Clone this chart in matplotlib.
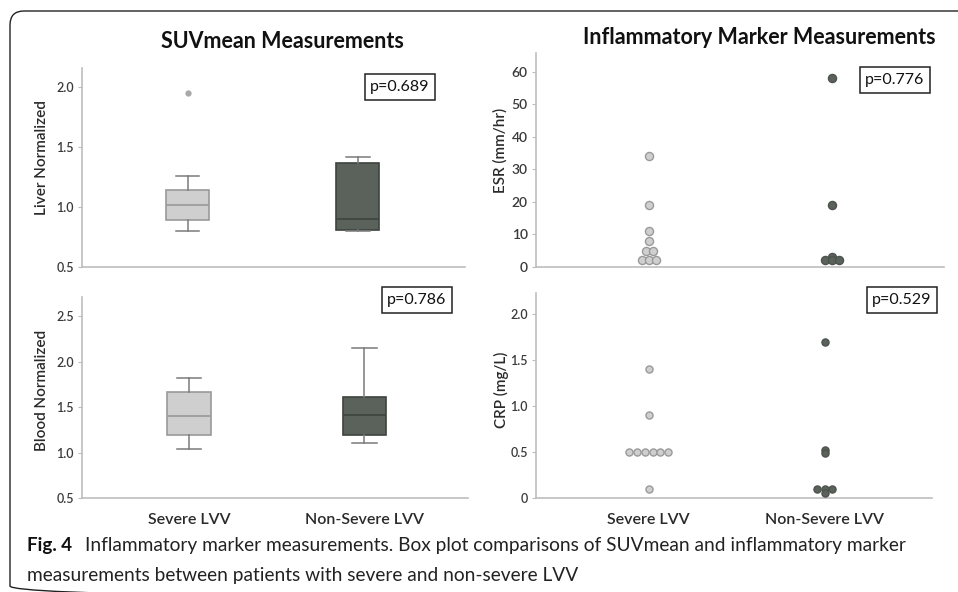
import matplotlib
matplotlib.use("Agg")
import matplotlib.pyplot as plt
import matplotlib.patches as mpatches

plt.rcParams['font.family'] = ['Lato', 'DejaVu Sans']

W, H = 958, 592

# ---------------- data ----------------
groups = ["Severe LVV", "Non-Severe LVV"]

# SUVmean liver normalized: low whisker, Q1, median, Q3, high whisker
liver_severe = [0.80, 0.89, 1.02, 1.14, 1.26]
liver_severe_out = [1.95]
liver_nonsevere = [0.80, 0.81, 0.90, 1.37, 1.42]

# SUVmean blood normalized
blood_severe = [1.04, 1.19, 1.40, 1.67, 1.82]
blood_nonsevere = [1.11, 1.19, 1.41, 1.61, 2.15]

# inflammatory markers
esr_severe = [34, 19, 11, 8, 5, 5, 2, 2, 2]
esr_nonsevere = [58, 19, 3, 2, 2, 2]
crp_severe = [1.4, 0.9, 0.5, 0.5, 0.5, 0.5, 0.5, 0.5, 0.1]
crp_nonsevere = [1.7, 0.52, 0.49, 0.1, 0.1, 0.1, 0.05]

p_values = ["p=0.689", "p=0.786", "p=0.776", "p=0.529"]

LIGHT = "#cfcfcf"
DARK = "#5b625b"
DARK_EDGE = "#3e433e"
AXIS = "#bdbdbd"


def frac(x0, y0, x1, y1):
    return [x0 / W, 1 - y1 / H, (x1 - x0) / W, (y1 - y0) / H]


def style_axes(ax, ylim, yticks, yticklabels, xlim):
    ax.set_xlim(*xlim)
    ax.set_ylim(*ylim)
    for s in ("top", "right"):
        ax.spines[s].set_visible(False)
    for s in ("left", "bottom"):
        ax.spines[s].set_color(AXIS)
        ax.spines[s].set_linewidth(1.2)
    ax.set_yticks(yticks)
    ax.set_yticklabels(yticklabels, fontweight="semibold")
    ax.tick_params(axis="y", length=3, color=AXIS, labelsize=9,
                   labelcolor="#3a3a3a", pad=3)
    ax.tick_params(axis="x", length=0, labelsize=11.5, labelcolor="#2a2a2a",
                   pad=11)
    ax.set_xticks([0, 1])
    ax.set_facecolor("none")


def stats(vals, fliers=()):
    lo, q1, med, q3, hi = vals
    return dict(whislo=lo, q1=q1, med=med, q3=q3, whishi=hi,
                fliers=list(fliers))


def boxes(ax, sev, nonsev, sev_out=()):
    for pos, st, face, edge, medc in (
            (0, stats(sev, sev_out), LIGHT, "#9a9a9a", "#9a9a9a"),
            (1, stats(nonsev), DARK, DARK_EDGE, DARK_EDGE)):
        ax.bxp([st], positions=[pos], widths=0.25, patch_artist=True,
               boxprops=dict(facecolor=face, edgecolor=edge, linewidth=1.2),
               medianprops=dict(color=medc, linewidth=1.2),
               whiskerprops=dict(color="#7a7a7a", linewidth=1.1),
               capprops=dict(color="#7a7a7a", linewidth=1.1),
               capwidths=0.14,
               flierprops=dict(marker="o", markersize=3.5,
                               markerfacecolor="#a8a8a8",
                               markeredgecolor="#a8a8a8"),
               manage_ticks=False)


def swarm_offsets(values, step):
    counts = {}
    for v in values:
        counts[v] = counts.get(v, 0) + 1
    seen = {}
    offs = []
    for v in values:
        n = counts[v]
        k = seen.get(v, 0)
        seen[v] = k + 1
        offs.append((k - (n - 1) / 2) * step)
    return offs


def dots(ax, sev, nonsev, step, size):
    xs = [0 + o for o in swarm_offsets(sev, step)]
    ax.scatter(xs, sev, s=size, facecolor=LIGHT, edgecolor="#9a9a9a",
               linewidth=1.0, zorder=3, clip_on=False)
    xn = [1 + o for o in swarm_offsets(nonsev, step)]
    ax.scatter(xn, nonsev, s=size, facecolor=DARK, edgecolor="#4d534d",
               linewidth=1.0, zorder=3, clip_on=False)


fig = plt.figure(figsize=(W / 100, H / 100), dpi=100)

# overlay for frame, titles, captions
ov = fig.add_axes([0, 0, 1, 1])
ov.set_xlim(0, W)
ov.set_ylim(H, 0)
ov.set_axis_off()
ov.add_patch(mpatches.FancyBboxPatch(
    (10, 11), W + 40, H - 3, boxstyle="round,pad=0,rounding_size=14",
    facecolor="none", edgecolor="#222222", linewidth=1.0))

# ---- top-left: liver ----
ax1 = fig.add_axes(frac(82, 68, 465, 267))
boxes(ax1, liver_severe, liver_nonsevere, liver_severe_out)
style_axes(ax1, (0.5, 2.16), [0.5, 1.0, 1.5, 2.0],
           ["0.5", "1.0", "1.5", "2.0"], (-0.62, 1.63))
ax1.set_xticklabels([])

# ---- bottom-left: blood ----
ax2 = fig.add_axes(frac(82, 297, 468, 498))
boxes(ax2, blood_severe, blood_nonsevere)
style_axes(ax2, (0.5, 2.71), [0.5, 1.0, 1.5, 2.0, 2.5],
           ["0.5", "1.0", "1.5", "2.0", "2.5"], (-0.61, 1.59))
ax2.set_xticklabels(groups, fontweight="semibold")

# ---- top-right: ESR ----
ax3 = fig.add_axes(frac(536, 53, 944, 267))
dots(ax3, esr_severe, esr_nonsevere, 0.038, 34)
style_axes(ax3, (0, 65.8), [0, 10, 20, 30, 40, 50, 60],
           ["0", "10", "20", "30", "40", "50", "60"], (-0.62, 1.61))
ax3.tick_params(axis="y", labelsize=10)
ax3.set_xticklabels([])

# ---- bottom-right: CRP ----
ax4 = fig.add_axes(frac(536, 293, 932, 498))
dots(ax4, crp_severe, crp_nonsevere, 0.044, 26)
style_axes(ax4, (0, 2.23), [0, 0.5, 1.0, 1.5, 2.0],
           ["0", "0.5", "1.0", "1.5", "2.0"], (-0.64, 1.61))
ax4.set_xticklabels(groups, fontweight="semibold")

# titles
ov.text(282, 42, "SUVmean Measurements", ha="center", va="center",
        fontsize=15.5, fontweight="bold", color="#111111")
ov.text(759, 38, "Inflammatory Marker Measurements", ha="center",
        va="center", fontsize=15.5, fontweight="bold", color="#111111")

# y labels
for x, y, lab in ((42, 158, "Liver Normalized"), (42, 390, "Blood Normalized"),
                  (500, 150, "ESR (mm/hr)"), (501, 390, "CRP (mg/L)")):
    ov.text(x, y, lab, rotation=90, ha="center", va="center",
            fontsize=11, fontweight="semibold", color="#2a2a2a")

# p-value boxes
for (cx, cy), txt in zip([(400, 87), (417, 300), (895, 80), (902, 300)],
                         p_values):
    ov.text(cx, cy, txt, ha="center", va="center", fontsize=11.5,
            color="#111111",
            bbox=dict(boxstyle="square,pad=0.35", facecolor="white",
                      edgecolor="#222222", linewidth=1.1))

# caption
ov.text(27, 545, "Fig. 4", ha="left", va="center", fontsize=13.5,
        fontweight="bold", color="#111111")
ov.text(85, 545, "Inflammatory marker measurements. Box plot comparisons "
        "of SUVmean and inflammatory marker", ha="left", va="center",
        fontsize=13.8, color="#222222")
ov.text(27, 575, "measurements between patients with severe and non-severe LVV",
        ha="left", va="center", fontsize=13.8, color="#222222")

fig.savefig("out.png", dpi=100)
